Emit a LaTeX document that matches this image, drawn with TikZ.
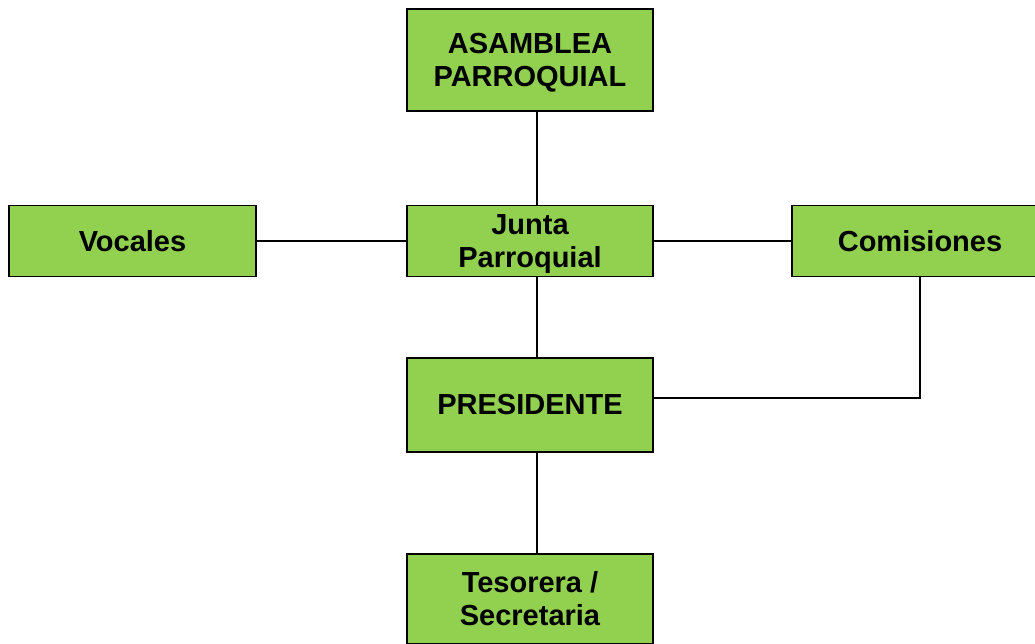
\documentclass[tikz,border=0pt]{standalone}
\usepackage{fontspec}
\setmainfont{Liberation Sans}
\usepackage{xcolor}
\usepackage{tikz}
\usetikzlibrary{positioning,calc}
\definecolor{boxgreen}{HTML}{92D050}

\begin{document}
\begin{tikzpicture}[x=1pt,y=-1pt,
  cargo/.style={draw=black,fill=boxgreen,line width=1.5pt,align=center,inner sep=0pt,
    font=\fontsize{29}{33}\selectfont\bfseries,minimum width=246pt},
  enlace/.style={draw=black,line width=1.4pt}]
\clip (0,0) rectangle (1035,644);
\useasboundingbox (0,0) rectangle (1035,644);
\node[cargo,minimum height=102pt,text depth=-4pt] (asam) at (530,60) {ASAMBLEA\\PARROQUIAL};
\node[cargo,minimum height=71pt,text depth=0pt] (junta) at (530,241) {Junta\\Parroquial};
\node[cargo,minimum height=71pt,minimum width=247pt] (voc) at (132.5,241) {Vocales};
\node[cargo,minimum height=71pt,minimum width=256pt] (com) at (920,241) {Comisiones};
\node[cargo,minimum height=94pt] (pres) at (530,405) {PRESIDENTE};
\node[cargo,minimum height=90pt] (teso) at (530,599) {Tesorera /\\Secretaria};
\draw[enlace] ([xshift=7pt]asam.south) -- ([xshift=7pt]junta.north);
\draw[enlace] (voc.east) -- (junta.west);
\draw[enlace] (junta.east) -- (com.west);
\draw[enlace] ([xshift=7pt]junta.south) -- ([xshift=7pt]pres.north);
\draw[enlace] ([yshift=7pt]pres.east) -| (com.south);
\draw[enlace] ([xshift=7pt]pres.south) -- ([xshift=7pt]teso.north);
\end{tikzpicture}
\end{document}
